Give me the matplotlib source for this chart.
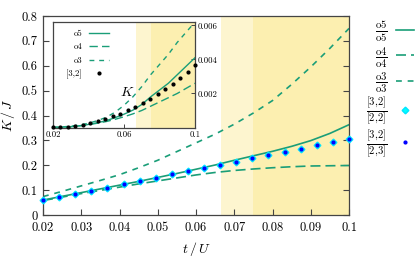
import matplotlib
matplotlib.use("Agg")
import matplotlib.pyplot as plt
import numpy as np

plt.rcParams['font.family'] = 'serif'
plt.rcParams['font.serif'] = ['cmr10', 'DejaVu Serif']
plt.rcParams['mathtext.fontset'] = 'cm'
plt.rcParams['axes.unicode_minus'] = False

# ---------------- data ----------------
x_curve = [0.020, 0.025, 0.030, 0.035, 0.040, 0.045, 0.050, 0.055, 0.060,
           0.065, 0.070, 0.075, 0.080, 0.085, 0.090, 0.095, 0.100]
o5_main = [0.060, 0.075, 0.090, 0.105, 0.120, 0.135, 0.151, 0.167, 0.184,
           0.201, 0.220, 0.238, 0.256, 0.276, 0.299, 0.328, 0.363]
o4_main = [0.058, 0.072, 0.086, 0.099, 0.112, 0.125, 0.137, 0.149, 0.161,
           0.171, 0.179, 0.185, 0.190, 0.194, 0.197, 0.198, 0.199]
o3_main = [0.074, 0.095, 0.117, 0.139, 0.162, 0.190, 0.220, 0.255, 0.290,
           0.325, 0.365, 0.410, 0.460, 0.525, 0.595, 0.670, 0.750]

x_pts = [0.0200, 0.0242, 0.0284, 0.0326, 0.0368, 0.0411, 0.0453, 0.0495,
         0.0537, 0.0579, 0.0621, 0.0663, 0.0705, 0.0747, 0.0789, 0.0832,
         0.0874, 0.0916, 0.0958, 0.1000]
r32_22 = [0.060, 0.071, 0.084, 0.098, 0.110, 0.125, 0.137, 0.150, 0.164,
          0.176, 0.188, 0.201, 0.214, 0.228, 0.241, 0.254, 0.267, 0.280,
          0.293, 0.307]
r32_23 = [0.060, 0.071, 0.084, 0.098, 0.110, 0.125, 0.137, 0.150, 0.164,
          0.176, 0.188, 0.201, 0.214, 0.228, 0.241, 0.254, 0.267, 0.280,
          0.293, 0.307]

o5_in = [0.0, 0.00002, 0.00005, 0.00010, 0.00018, 0.00028, 0.00040, 0.00058,
         0.00078, 0.00102, 0.00135, 0.00180, 0.00220, 0.00260, 0.00310,
         0.00360, 0.00410]
o4_in = [0.0, 0.00002, 0.00005, 0.00010, 0.00017, 0.00025, 0.00035, 0.00048,
         0.00063, 0.00080, 0.00100, 0.00125, 0.00150, 0.00175, 0.00200,
         0.00230, 0.00260]
o3_in = [0.0, 0.00003, 0.00008, 0.00015, 0.00025, 0.00040, 0.00060, 0.00090,
         0.00130, 0.00180, 0.00240, 0.00310, 0.00370, 0.00430, 0.00500,
         0.00560, 0.00620]
k32_in = [0.0, 0.00002, 0.00004, 0.00008, 0.00016, 0.00028, 0.00040, 0.00049,
          0.00065, 0.00082, 0.00100, 0.00118, 0.00143, 0.00169, 0.00194,
          0.00224, 0.00255, 0.00290, 0.00328, 0.00367]

shade_light = (0.0665, 0.075)
shade_dark = (0.075, 0.1)

xticks_main = [0.02, 0.03, 0.04, 0.05, 0.06, 0.07, 0.08, 0.09, 0.1]
xticklabels_main = ['0.02', '0.03', '0.04', '0.05', '0.06', '0.07', '0.08', '0.09', '0.1']
yticks_main = [0, 0.1, 0.2, 0.3, 0.4, 0.5, 0.6, 0.7, 0.8]
yticklabels_main = ['0', '0.1', '0.2', '0.3', '0.4', '0.5', '0.6', '0.7', '0.8']
xticks_in = [0.02, 0.06, 0.1]
xticklabels_in = ['0.02', '0.06', '0.1']
yticks_in = [0.002, 0.004, 0.006]
yticklabels_in = ['0.002', '0.004', '0.006']

# ---------------- style ----------------
green = '#1a9e78'
c_light = '#fdf5cf'
c_dark = '#fcefb0'
spine_c = '#444444'
ls_o4 = (0, (6, 3))
ls_o3 = (0, (3.5, 3.5))
lw = 1.2

fig = plt.figure(figsize=(4.16, 2.58), dpi=100)
ax = fig.add_axes([43/416, 1-215/258, (349-43)/416, (215-16)/258])

ax.axvspan(*shade_light, color=c_light, lw=0, zorder=0)
ax.axvspan(*shade_dark, color=c_dark, lw=0, zorder=0)

l5, = ax.plot(x_curve, o5_main, color=green, lw=lw, label=r'$\frac{\mathrm{o5}}{\mathrm{o5}}$')
l4, = ax.plot(x_curve, o4_main, color=green, lw=lw, ls=ls_o4, label=r'$\frac{\mathrm{o4}}{\mathrm{o4}}$')
l3, = ax.plot(x_curve, o3_main, color=green, lw=lw, ls=ls_o3, label=r'$\frac{\mathrm{o3}}{\mathrm{o3}}$')
p1, = ax.plot(x_pts, r32_22, ls='none', marker='D', ms=3.4, color='#00ffff', mec='#00e5ff',
              label=r'$\frac{[3{,}2]}{[2{,}2]}$', zorder=4, clip_on=False)
p2, = ax.plot(x_pts, r32_23, ls='none', marker='o', ms=2.0, color='#0000ff',
              label=r'$\frac{[3{,}2]}{[2{,}3]}$', zorder=5, clip_on=False)

ax.set_xlim(0.02, 0.1)
ax.set_ylim(0, 0.8)
ax.set_xticks(xticks_main)
ax.set_xticklabels(xticklabels_main)
ax.set_yticks(yticks_main)
ax.set_yticklabels(yticklabels_main)
ax.tick_params(direction='in', length=4, width=0.8, color=spine_c, labelsize=9,
               right=True, top=False)
ax.tick_params(axis='x', pad=5)
ax.tick_params(axis='y', pad=4)
for s in ax.spines.values():
    s.set_color(spine_c)
    s.set_linewidth(0.9)
ax.set_xlabel(r'$t\,/\,U$', fontsize=10, labelpad=4)
ax.set_ylabel(r'$K\,/\,J$', fontsize=10, labelpad=3)

fig.legend(handles=[l5, l4, l3, p1, p2], loc='upper left',
           bbox_to_anchor=(360/416, 1-14/258), frameon=False, fontsize=11,
           markerfirst=False, handlelength=1.15, labelspacing=0.04,
           handletextpad=0.55, borderaxespad=0)

# ---------------- inset ----------------
axi = fig.add_axes([53/416, 1-128/258, (195-53)/416, (128-22)/258])
axi.set_facecolor('white')
axi.axvspan(*shade_light, color=c_light, lw=0, zorder=0)
axi.axvspan(*shade_dark, color=c_dark, lw=0, zorder=0)
i5, = axi.plot(x_curve, o5_in, color=green, lw=1.0, label='o5')
i4, = axi.plot(x_curve, o4_in, color=green, lw=1.0, ls=ls_o4, label='o4')
i3, = axi.plot(x_curve, o3_in, color=green, lw=1.0, ls=ls_o3, label='o3')
ik, = axi.plot(x_pts, k32_in, ls='none', marker='o', ms=2.0, color='black',
               label='[3,2]', zorder=5, clip_on=False)
axi.set_xlim(0.02, 0.1)
axi.set_ylim(-0.00003, 0.0062)
axi.set_xticks(xticks_in)
axi.set_xticklabels(xticklabels_in)
axi.set_yticks(yticks_in)
axi.set_yticklabels(yticklabels_in)
axi.yaxis.tick_right()
axi.tick_params(direction='in', length=3, width=0.7, color=spine_c, labelsize=6.3, pad=2)
for s in axi.spines.values():
    s.set_color(spine_c)
    s.set_linewidth(0.9)
axi.text(0.0617, 0.00205, r'$K$', fontsize=10, ha='center', va='center')
axi.legend(handles=[i5, i4, i3, ik], loc='upper left', bbox_to_anchor=(0.07, 0.96),
           frameon=False, fontsize=6.3, markerfirst=False, handlelength=2.3,
           labelspacing=0.55, handletextpad=0.8, borderaxespad=0)

fig.savefig('out.png', dpi=100)
